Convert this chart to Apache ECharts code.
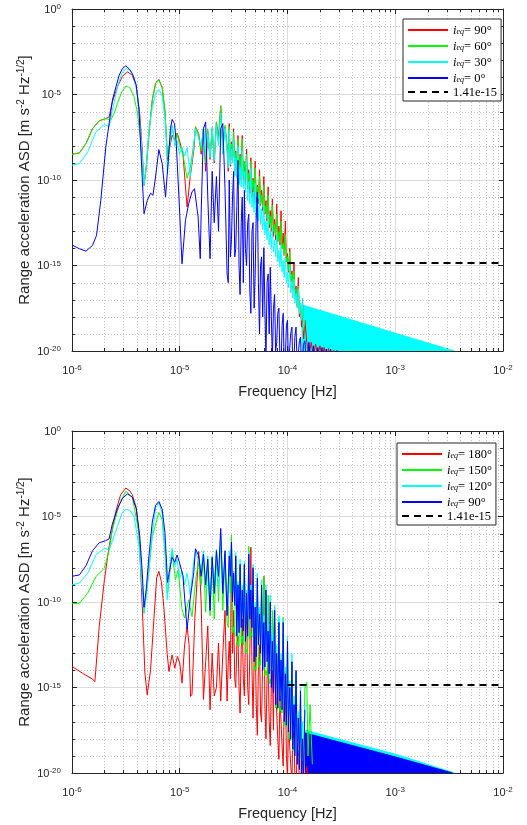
<!DOCTYPE html>
<html><head><meta charset="utf-8">
<script src="https://cdn.jsdelivr.net/npm/echarts@6/dist/echarts.min.js"></script>
<style>html,body{margin:0;padding:0;background:#fff}#c{width:527px;height:825px}</style>
</head><body><div id="c"></div>
<script>
// ---------- frequency grids for the dense middle band ----------
const freqMid = [1.58e-5,1.66e-5,1.74e-5,1.82e-5,1.91e-5,2.0e-5,2.09e-5,2.19e-5,2.29e-5,2.4e-5,2.51e-5,2.63e-5,2.75e-5,2.88e-5,3.02e-5,3.16e-5,3.31e-5,3.47e-5,3.63e-5,3.8e-5,3.98e-5,4.17e-5,4.37e-5,4.57e-5,4.79e-5,5.01e-5,5.25e-5,5.5e-5,5.75e-5,6.03e-5,6.31e-5,6.61e-5,6.92e-5,7.24e-5,7.59e-5,7.94e-5,8.32e-5,8.71e-5,9.12e-5,9.55e-5,1.0e-4,1.05e-4,1.1e-4,1.15e-4,1.2e-4,1.26e-4,1.32e-4,1.38e-4,1.45e-4];
const freqMid2 = [2.82e-5,2.95e-5,3.09e-5,3.24e-5,3.39e-5,3.55e-5,3.72e-5,3.89e-5,4.07e-5,4.27e-5,4.47e-5,4.68e-5,4.9e-5,5.13e-5,5.37e-5,5.62e-5,5.89e-5,6.17e-5,6.46e-5,6.76e-5,7.08e-5,7.41e-5,7.76e-5,8.13e-5,8.51e-5,8.91e-5,9.33e-5,9.77e-5,1.02e-4,1.07e-4,1.12e-4,1.17e-4,1.23e-4,1.29e-4,1.35e-4,1.41e-4];

// ---------- i_eq = 90 deg, low-frequency part (both panels) ----------
const i90Low = [[1e-6,3.2e-9],[1.17e-6,3.8e-9],[1.35e-6,1.35e-8],[1.55e-6,1.0e-7],[1.79e-6,2.9e-7],[2.06e-6,3.9e-7],[2.21e-6,4.9e-7],[2.37e-6,3.7e-6],[2.64e-6,2.8e-5],[2.94e-6,1.17e-4],[3.27e-6,2.1e-4],[3.63e-6,1.35e-4],[3.95e-6,2.8e-5],[4.25e-6,7.8e-7],[4.49e-6,5.5e-9],[4.66e-6,4.9e-11],[4.89e-6,5.8e-10],[5.18e-6,5.1e-8],[5.56e-6,4.7e-6],[5.96e-6,4.5e-5],[6.40e-6,7.6e-5],[6.87e-6,2.6e-5],[7.28e-6,1.2e-6],[7.54e-6,2.1e-8],[7.69e-6,1.4e-9],[8.09e-6,8.5e-9],[8.49e-6,4.2e-8],[8.99e-6,2.1e-8],[9.44e-6,5.6e-8],[9.93e-6,2.1e-8],[1.07e-5,3.5e-9],[1.17e-5,2.6e-12],[1.25e-5,1.5e-10],[1.35e-5,5.5e-9],[1.40e-5,1.3e-7],[1.50e-5,5.1e-8]];

// ---------- TOP PANEL ----------
const topRedMid = [3.2e-9,1e-7,3.2e-10,6.3e-8,1.6e-9,1e-7,1e-9,2.5e-7,3.2e-8,2.2e-6,1e-8,1.26e-7,1e-8,2e-7,1.6e-8,1e-7,5e-9,4e-8,3.2e-9,4e-8,1.26e-9,6.3e-9,4e-10,2e-9,1.26e-10,1.26e-9,5e-11,4e-10,2.5e-11,1.6e-10,6.3e-12,4e-11,1.6e-12,7.9e-12,5e-13,4e-12,2e-13,1.6e-12,7.9e-14,4e-13,5e-15,1e-14,5e-16,1.6e-15,6.3e-17,2e-16,5e-18,1e-17,6.3e-19];
const topRedMid2 = [3.2e-10,6.3e-10,1e-9,3.2e-10,1.6e-10,6.3e-11,1e-10,1e-10,5e-11,3.2e-11,1.6e-11,1e-11,6.3e-12,5e-12,4e-12,3.2e-12,1.6e-12,1e-12,4e-13,1.6e-13,1e-13,5e-14,3.2e-14,2.5e-14,1.6e-14,1e-14,4e-15,1.6e-15,4e-16,1e-16,4e-17,1.6e-17,4e-18,1e-18,2.5e-19,5e-20];
const topRedTail = [[1.51e-4,3.2e-20],[1.58e-4,5e-21],[1.66e-4,3.2e-20],[1.74e-4,5e-21],[1.82e-4,2.5e-20],[1.91e-4,5e-21],[2.0e-4,2e-20],[2.09e-4,5e-21],[2.19e-4,1.6e-20],[2.29e-4,4e-21],[2.4e-4,1.4e-20],[2.51e-4,4e-21],[2.69e-4,1.1e-20],[2.88e-4,3.2e-21]];

const topGreenLow = [[1e-6,3.2e-9],[1.17e-6,3.8e-9],[1.35e-6,1.35e-8],[1.55e-6,1.0e-7],[1.79e-6,2.9e-7],[2.06e-6,3.9e-7],[2.29e-6,3.2e-7],[2.46e-6,7.8e-7],[2.64e-6,3.0e-6],[2.9e-6,1.45e-5],[3.16e-6,3.1e-5],[3.43e-6,2.6e-5],[3.76e-6,7.3e-6],[4.04e-6,9.6e-7],[4.34e-6,2.1e-8],[4.66e-6,4.9e-11],[4.89e-6,5.8e-10],[5.18e-6,5.1e-8],[5.56e-6,4.7e-6],[5.96e-6,4.2e-5],[6.40e-6,7.1e-5],[6.87e-6,2.5e-5],[7.28e-6,1.2e-6],[7.54e-6,2.5e-8],[7.69e-6,2.5e-9],[8.09e-6,1.6e-8],[8.49e-6,1.4e-7],[8.99e-6,2.0e-8],[9.44e-6,5.0e-8],[9.93e-6,1.26e-8],[1.07e-5,3.2e-9],[1.17e-5,1.26e-10],[1.25e-5,5.0e-10],[1.35e-5,1.26e-8],[1.40e-5,1.26e-7],[1.50e-5,4.0e-8]];
const topGreenMid = [5e-9,1.26e-7,1e-9,1e-7,3.2e-9,7.9e-8,1.6e-9,2.5e-7,1.6e-8,2e-6,6.3e-9,1.6e-7,1e-8,1.26e-7,1.26e-8,6.3e-8,4e-9,2.5e-8,2.5e-9,2.5e-8,1.26e-9,3.2e-9,2.5e-10,1.26e-9,1e-10,5e-10,4e-11,1.6e-10,1.26e-11,5e-11,3.2e-12,1.26e-11,7.9e-13,3.2e-12,2.5e-13,1e-12,1e-13,4e-13,2e-14,6.3e-14,3.2e-15,6.3e-15,3.2e-16,5e-16,4e-17,6.3e-17,3.2e-18,5e-18,6.3e-19];
const topGreenMid2 = [1e-9,1.6e-9,3.2e-9,6.3e-10,5e-10,2.5e-10,2.5e-10,1.6e-10,1.26e-10,5e-11,4e-11,2.5e-11,1.6e-11,1e-11,7.9e-12,4e-12,2.5e-12,1.26e-12,6.3e-13,2.5e-13,1.6e-13,1e-13,6.3e-14,3.2e-14,2e-14,1e-14,4e-15,1.6e-15,5e-16,1.26e-16,6.3e-17,2.5e-17,6.3e-18,1.6e-18,7.9e-19,1.6e-19];

const topCyanLow = [[1e-6,7.2e-10],[1.17e-6,9.1e-10],[1.40e-6,4.4e-9],[1.67e-6,6.5e-8],[2.0e-6,1.8e-7],[2.21e-6,1.3e-7],[2.37e-6,1.2e-6],[2.64e-6,2.8e-5],[2.9e-6,1.7e-4],[3.16e-6,3.3e-4],[3.43e-6,2.7e-4],[3.76e-6,1.0e-4],[4.04e-6,1.15e-5],[4.34e-6,5.1e-8],[4.66e-6,4.9e-11],[4.89e-6,7.2e-10],[5.18e-6,1.0e-7],[5.56e-6,1.6e-6],[5.96e-6,1.1e-5],[6.40e-6,2.0e-5],[6.87e-6,8.0e-6],[7.28e-6,4.0e-7],[7.54e-6,1.0e-8],[7.69e-6,2.3e-10],[8.09e-6,1.26e-8],[8.49e-6,1.6e-7],[8.99e-6,1.0e-8],[9.44e-6,2.0e-8],[9.93e-6,3.2e-9],[1.05e-5,8.0e-9],[1.11e-5,2.5e-9],[1.17e-5,8.0e-9],[1.25e-5,1.6e-10],[1.35e-5,1.26e-8],[1.40e-5,1.0e-7],[1.50e-5,2.5e-8]];
const topCyanMid = [1e-8,1e-7,2.5e-9,5e-8,2e-9,1.26e-7,1.26e-9,1.6e-7,1e-8,7.9e-7,3.2e-9,1e-7,4e-9,7.9e-8,6.3e-9,3.2e-8,2e-9,1e-8,6.3e-10,5e-9,3.2e-10,1.6e-9,7.9e-11,5e-10,2e-11,6.3e-11,5e-12,1.6e-11,2e-12,3.2e-12,4e-13,1e-12,1e-13,2e-13,3.2e-14,6.3e-14,7.9e-15,1.6e-14,2e-15,3.2e-15,4e-16,1e-15,1e-16,1.6e-16,2.5e-17,4e-17,6.3e-18,1.26e-17,1.6e-18];
const topCyanMid2 = [5e-10,7.9e-10,1e-9,1.6e-10,1.26e-10,5e-11,4e-11,3.2e-11,2e-11,6.3e-12,4e-12,2.5e-12,1.26e-12,6.3e-13,4e-13,2.5e-13,1.26e-13,6.3e-14,3.2e-14,1.6e-14,1e-14,6.3e-15,3.2e-15,1.6e-15,7.9e-16,4e-16,2e-16,1e-16,5e-17,2.5e-17,1.26e-17,6.3e-18,3.2e-18,1.6e-18,6.3e-19,2.5e-19];
const topCyanTail = [[1.35e-4,5e-18],[3.16e-4,1e-18],[1.05e-3,1e-19],[3.55e-3,1e-20]];

const topBlueLow = [[1e-6,1.6e-14],[1.17e-6,9.5e-15],[1.35e-6,6.9e-15],[1.55e-6,1.5e-14],[1.69e-6,5.8e-14],[1.85e-6,6.5e-12],[2.06e-6,8.5e-9],[2.37e-6,4.7e-6],[2.74e-6,1.35e-4],[2.94e-6,3.3e-4],[3.16e-6,4.8e-4],[3.43e-6,2.9e-4],[3.63e-6,1.7e-4],[3.95e-6,3.5e-5],[4.19e-6,1.2e-6],[4.34e-6,8.5e-9],[4.66e-6,1.07e-12],[5.0e-6,6.5e-12],[5.37e-6,1.7e-11],[5.64e-6,1.26e-11],[5.96e-6,1.5e-10],[6.40e-6,6.0e-9],[6.87e-6,9.1e-10],[7.38e-6,1.0e-11],[7.94e-6,5.5e-9],[8.2e-6,1.0e-7],[8.49e-6,3.5e-7],[8.93e-6,2.0e-7],[9.25e-6,2.1e-8],[9.93e-6,2.6e-12],[1.05e-5,1.26e-15],[1.13e-5,4.4e-13],[1.21e-5,4.1e-12],[1.30e-5,2e-11],[1.37e-5,3.1e-11],[1.48e-5,6.8e-13],[1.55e-5,2.5e-15]];
const topBlueMid = [1e-12,1e-7,2.5e-7,1e-11,2.5e-15,3.2e-10,3.2e-13,1.6e-10,1e-13,1e-7,2e-7,3.2e-11,3.2e-16,1e-10,3.2e-14,3.2e-10,1e-14,1.4e-9,2e-17,1e-11,2.5e-11,1e-15,1e-12,1.6e-18,3.2e-13,3.2e-16,2e-11,1e-19,3.2e-15,1.1e-14,3.2e-21,3.2e-16,7.9e-16,3.2e-21,2e-17,3.2e-20,3.2e-18,1e-21,1.6e-18,3.2e-21,6.3e-19,1e-21,2.5e-19,3.2e-21,2.5e-19,1e-21,6.3e-20,3.2e-21,4e-20];
const topBlueMid2 = [1e-16,3.2e-15,1e-11,3.2e-15,3.2e-12,1e-15,3.2e-13,1e-16,1e-14,3.2e-13,3.2e-17,1e-13,3.2e-18,1e-12,1e-16,1e-15,1e-18,3.2e-18,1e-16,1e-19,1e-18,3.2e-18,1e-20,1.6e-18,3.2e-21,3.2e-19,1e-21,3.2e-19,1e-21,1e-19,1e-21,6.3e-20,1e-21,4e-20,1e-21,2.5e-20];
const topBlueTail = [[1.51e-4,1e-21],[1.58e-4,3.2e-20],[1.66e-4,1e-21],[1.74e-4,2e-20],[1.82e-4,1e-21],[1.91e-4,1.6e-20],[2.0e-4,1e-21],[2.09e-4,1.6e-20],[2.19e-4,1e-21],[2.29e-4,1.3e-20],[2.4e-4,1e-21],[2.51e-4,1.3e-20],[2.69e-4,1e-21],[2.88e-4,1.1e-20],[3.16e-4,1e-21]];

// ---------- BOTTOM PANEL ----------
const botRedLow = [[1e-6,1.7e-14],[1.25e-6,6.9e-15],[1.55e-6,3.1e-15],[1.63e-6,2.2e-15],[1.79e-6,3.7e-12],[2.0e-6,2.0e-9],[2.21e-6,1.8e-7],[2.55e-6,2.0e-5],[2.83e-6,1.9e-4],[3.16e-6,4.6e-4],[3.43e-6,3.2e-4],[3.63e-6,1.9e-4],[3.95e-6,3.2e-5],[4.19e-6,8.5e-7],[4.49e-6,5.5e-11],[4.75e-6,6.9e-15],[4.99e-6,3.7e-16],[5.36e-6,1.1e-14],[5.75e-6,9.1e-12],[6.10e-6,2.5e-9],[6.40e-6,6.2e-9],[6.75e-6,1.6e-9],[7.11e-6,5.5e-11],[7.64e-6,1.0e-13],[7.94e-6,8.7e-15],[8.49e-6,8.1e-14],[8.99e-6,1.35e-14],[9.51e-6,6.6e-14],[1.0e-5,2.7e-14],[1.05e-5,1.8e-15],[1.11e-5,3.2e-13],[1.17e-5,3.7e-12],[1.22e-5,3.2e-13],[1.26e-5,3.0e-16],[1.30e-5,4e-16],[1.38e-5,1e-11],[1.50e-5,8.9e-8]];
const botRedMid = [1e-10,2e-16,3.2e-14,4e-12,5e-17,1e-13,3.2e-16,1e-15,4e-13,1.6e-16,1e-13,3.2e-11,1.6e-16,5e-13,7.9e-7,3.2e-11,1e-15,1e-12,3.2e-17,1e-11,3.2e-16,3.2e-11,1e-16,1.6e-7,1.6e-17,1e-12,1.6e-18,3.2e-13,1e-17,3.2e-9,1e-18,3.2e-14,4e-19,1e-14,5e-11,1e-15,6.3e-20,3.2e-16,2.5e-20,3.2e-15,5e-21,1e-17,3.2e-21,1e-18,1e-21,1.6e-19,1e-21,4e-20,1e-21];
const botRedMid2 = [3.2e-14,3.2e-15,1e-13,3.2e-15,3.2e-13,1e-15,1.6e-13,3.2e-15,1e-12,1e-15,1e-13,1e-14,3.2e-14,1e-16,1.6e-14,3.2e-17,6.3e-14,1e-16,3.2e-15,1e-17,1.6e-15,3.2e-18,1e-15,1e-18,3.2e-16,3.2e-19,1e-16,1e-19,1e-17,3.2e-20,3.2e-18,1e-20,3.2e-19,3.2e-21,6.3e-20,1e-21];
const botRedTail = [[1.51e-4,2.5e-20],[1.58e-4,1e-21]];

const botGreenLow = [[1e-6,7.9e-11],[1.17e-6,8.5e-11],[1.40e-6,3.3e-10],[1.67e-6,3.1e-9],[2.0e-6,9.5e-9],[2.21e-6,1.0e-7],[2.37e-6,1.66e-6],[2.74e-6,4.9e-5],[3.16e-6,3.0e-4],[3.63e-6,1.35e-4],[4.19e-6,1.07e-6],[4.66e-6,2.2e-11],[5.0e-6,8.1e-10],[5.56e-6,6.8e-7],[6.40e-6,1.74e-5],[6.87e-6,6.5e-6],[7.38e-6,3.0e-8],[7.69e-6,2.5e-10],[8.49e-6,8.9e-8],[9.12e-6,2.0e-9],[9.66e-6,7.6e-9],[1.05e-5,3.5e-11],[1.11e-5,1.15e-11],[1.21e-5,1.35e-10],[1.30e-5,1.4e-11],[1.42e-5,3.1e-9],[1.50e-5,3.2e-8]];
const botGreenMid = [1e-9,4e-8,2.5e-11,2.5e-8,1.6e-11,5e-8,1e-11,6.3e-8,1e-10,1e-6,3.2e-11,6.3e-8,6.3e-12,3.2e-8,7.9e-7,3.2e-12,3.2e-8,5e-13,1e-8,1e-12,1.6e-8,1.6e-13,1.8e-7,1.6e-12,5e-9,1.6e-14,1.6e-9,3.2e-14,6.3e-10,3.2e-9,1e-14,2.5e-10,3.2e-15,3.2e-11,5e-11,1e-16,1e-11,6.3e-17,1.26e-11,1e-17,2.5e-13,1.6e-18,2e-14,3.2e-19,3.2e-15,1e-19,1e-16,3.2e-20,1e-15];
const botGreenMid2 = [3.2e-12,3.2e-10,1.6e-12,1e-12,3.2e-13,2.5e-13,4e-13,3.2e-13,1e-13,1e-13,6.3e-13,1e-12,1e-14,1e-14,1.6e-14,2e-14,1e-12,5e-15,5e-15,1.6e-15,1.6e-15,3.2e-13,6.3e-17,5e-17,4e-17,3.2e-17,6.3e-18,5e-18,1e-18,7.9e-19,2e-19,1.6e-19,6.3e-20,5e-20,2e-20,1.6e-20];
const botGreenTail = [[1.51e-4,2e-15],[1.55e-4,1e-19],[1.62e-4,1e-16],[1.70e-4,3.2e-20]];

const botCyanLow = [[1e-6,1.0e-9],[1.17e-6,1.3e-9],[1.40e-6,4.9e-9],[1.67e-6,5.8e-8],[2.0e-6,1.4e-7],[2.21e-6,1.1e-7],[2.64e-6,2.6e-6],[2.9e-6,1.5e-5],[3.16e-6,2.7e-5],[3.43e-6,2.3e-5],[3.76e-6,1.0e-5],[4.19e-6,1.8e-7],[4.66e-6,2.2e-11],[5.0e-6,8.1e-10],[5.56e-6,1.0e-6],[6.0e-6,3.5e-5],[6.40e-6,6.3e-5],[6.87e-6,1.6e-5],[7.38e-6,5.0e-8],[7.64e-6,1.35e-10],[8.09e-6,1.26e-8],[8.49e-6,1.4e-7],[8.99e-6,1.26e-8],[9.44e-6,3.2e-8],[1.0e-5,2.5e-9],[1.05e-5,6.3e-9],[1.11e-5,1.0e-9],[1.17e-5,5.0e-9],[1.25e-5,2.5e-10],[1.35e-5,2.5e-8],[1.40e-5,1.0e-7],[1.50e-5,2.5e-8]];
const botCyanMid = [1e-8,1e-7,6.3e-10,5e-8,1.6e-10,3.2e-8,1e-9,1.26e-7,6.3e-10,6.3e-7,1e-9,4e-8,1e-10,1e-7,2e-7,6.3e-9,7.9e-8,1.6e-9,3.2e-8,1e-9,2.5e-8,5e-10,7.9e-8,1e-9,1.6e-8,1e-10,5e-9,5e-11,2e-9,1.6e-11,1e-9,5e-12,2.5e-10,1.26e-12,6.3e-11,3.2e-13,1.6e-11,1e-13,1e-11,1.6e-14,1e-12,2.5e-15,1e-13,3.2e-16,7.9e-15,4e-17,1e-15,1e-17,1e-16];
const botCyanMid2 = [6.3e-11,1e-8,2.5e-10,1.6e-10,1e-11,6.3e-12,2.5e-11,1.6e-11,4e-12,2.5e-12,2.5e-11,1.6e-11,4e-13,2.5e-13,1e-12,6.3e-13,1e-13,7.9e-14,1e-13,6.3e-14,1e-14,6.3e-15,1e-15,7.9e-16,1e-15,6.3e-16,1e-16,6.3e-17,3.2e-17,1.6e-17,6.3e-18,3.2e-18,1.6e-18,1e-18,6.3e-19,3.2e-19];
const botCyanTail = [[1.45e-4,3.2e-18],[1.05e-3,1.15e-19],[3.55e-3,1e-20]];

const botBlueMid = [3.2e-9,6.3e-8,1e-9,3.2e-8,3.2e-11,4e-8,3.2e-10,1e-7,3.2e-9,2e-6,3.2e-10,1e-7,1.6e-11,5e-8,3.2e-7,5e-9,5e-8,1e-9,1.6e-8,5e-10,1.6e-8,3.2e-10,6.3e-8,5e-10,1e-8,5e-11,2.5e-9,2e-11,1e-9,6.3e-12,5e-10,2e-12,1e-10,5e-13,3.2e-11,1e-13,6.3e-12,4e-14,6.3e-12,6.3e-15,5e-13,1e-15,3.2e-14,1e-16,1e-14,1.6e-17,6.3e-16,1e-18,5e-17];
const botBlueMid2 = [1.26e-11,3.2e-9,1e-10,6.3e-11,1e-12,1.6e-12,3.2e-12,2e-12,5e-13,1e-12,1e-11,3.2e-12,3.2e-14,6.3e-14,3.2e-13,1e-13,1e-14,1.6e-14,3.2e-14,6.3e-15,1e-15,5e-16,1e-16,6.3e-17,1.6e-16,5e-17,1e-17,6.3e-18,2.5e-18,1e-18,2.5e-19,1e-19,3.2e-20,1.6e-20,3.2e-21,3.2e-21];
const botBlueTail = [[1.45e-4,2.2e-18],[1.05e-3,8e-20],[3.4e-3,1e-20]];

// ---------- threshold ----------
const thresholdValue = 1.41e-15;
const thresholdFreq = [1e-4, 1e-2];

// ---------- minor tick positions ----------
const minorX = [2e-6,3e-6,4e-6,5e-6,6e-6,7e-6,8e-6,9e-6,2e-5,3e-5,4e-5,5e-5,6e-5,7e-5,8e-5,9e-5,2e-4,3e-4,4e-4,5e-4,6e-4,7e-4,8e-4,9e-4,2e-3,3e-3,4e-3,5e-3,6e-3,7e-3,8e-3,9e-3];
const minorY = [1e-1,1e-2,1e-3,1e-4,1e-6,1e-7,1e-8,1e-9,1e-11,1e-12,1e-13,1e-14,1e-16,1e-17,1e-18,1e-19];

const legendTop = {T90:'90°', T60:'60°', T30:'30°', T0:'0°', Tth:'1.41e-15'};
const legendBot = {B180:'180°', B150:'150°', B120:'120°', B90:'90°', Bth:'1.41e-15'};

function build(low, mid, tail, mid2) {
  let pts = low.concat(freqMid.map((f, i) => [f, mid[i]]));
  if (mid2) pts = pts.concat(freqMid2.map((f, i) => [f, mid2[i]]));
  if (tail) pts = pts.concat(tail);
  pts.sort((a, b) => a[0] - b[0]);
  return pts;
}

const AX = '#262626';
const supRich = {
  b: {fontSize: 11, color: AX, lineHeight: 12, verticalAlign: 'bottom', fontFamily: 'Liberation Sans'},
  s: {fontSize: 8, color: AX, lineHeight: 9, padding: [0,0,5,0], verticalAlign: 'top', fontFamily: 'Liberation Sans'}
};
function powLabel(v) {
  const e = Math.round(Math.log10(v));
  return '{b|10}{s|' + e + '}';
}

function axesFor(g, isX) {
  const base = isX ? {min: 1e-6, max: 1e-2, interval: 1, splitNumber: 4} : {min: 1e-20, max: 1, interval: 5, splitNumber: 4};
  const main = Object.assign({
    type: 'log', logBase: 10, gridIndex: g,
    axisLine: {show: true, onZero: false, lineStyle: {color: AX, width: 1}},
    axisTick: {show: true, inside: true, length: 5, lineStyle: {color: AX}},
    axisLabel: {formatter: powLabel, rich: supRich, margin: isX ? 13 : 11},
    splitLine: {show: true, lineStyle: {color: '#dcdcdc', width: 1}},
    minorTick: {show: false}, minorSplitLine: {show: false},
    nameMoveOverlap: false
  }, base);
  if (isX) {
    main.position = 'bottom';
    main.name = 'Frequency [Hz]';
    main.nameLocation = 'middle';
    main.nameGap = 33;
    main.nameTextStyle = {fontSize: 14.5, color: AX, fontFamily: 'Liberation Sans'};
  } else {
    main.position = 'left';
    main.name = '{n|Range acceleration ASD [m s}{p|-2}{n| Hz}{p|-1/2}{n|]}';
    main.nameLocation = 'middle';
    main.nameGap = 40;
    main.nameRotate = 90;
    main.nameTextStyle = {rich: {
      n: {fontSize: 15, color: AX, fontFamily: 'Liberation Sans', lineHeight: 16, verticalAlign: 'bottom'},
      p: {fontSize: 10, color: AX, fontFamily: 'Liberation Sans', lineHeight: 11, padding: [0,0,6,0], verticalAlign: 'top'}
    }};
  }
  const twin = Object.assign({
    type: 'log', logBase: 10, gridIndex: g,
    position: isX ? 'top' : 'right',
    axisLine: {show: true, onZero: false, lineStyle: {color: AX, width: 1}},
    axisTick: {show: true, inside: true, length: 5, lineStyle: {color: AX}},
    axisLabel: {show: false}, splitLine: {show: false}
  }, base);
  return [main, twin];
}

function decor(params, api) {
  const cs = params.coordSys;
  const k = api.value(2);
  const L = 3;
  if (k === 0) {
    const x = Math.round(api.coord([api.value(0), 1e-10])[0]) + 0.5;
    return {type: 'group', children: [
      {type: 'line', shape: {x1: x, y1: cs.y, x2: x, y2: cs.y + cs.height}, style: {stroke: '#c4c4c4', lineWidth: 1, lineDash: [1, 2]}},
      {type: 'line', shape: {x1: x, y1: cs.y + cs.height, x2: x, y2: cs.y + cs.height - L}, style: {stroke: AX, lineWidth: 1}},
      {type: 'line', shape: {x1: x, y1: cs.y, x2: x, y2: cs.y + L}, style: {stroke: AX, lineWidth: 1}}
    ]};
  }
  const y = Math.round(api.coord([1e-4, api.value(1)])[1]) + 0.5;
  return {type: 'group', children: [
    {type: 'line', shape: {x1: cs.x, y1: y, x2: cs.x + cs.width, y2: y}, style: {stroke: '#c4c4c4', lineWidth: 1, lineDash: [1, 2]}},
    {type: 'line', shape: {x1: cs.x, y1: y, x2: cs.x + L, y2: y}, style: {stroke: AX, lineWidth: 1}},
    {type: 'line', shape: {x1: cs.x + cs.width, y1: y, x2: cs.x + cs.width - L, y2: y}, style: {stroke: AX, lineWidth: 1}}
  ]};
}
const decorData = minorX.map(v => [v, 1e-10, 0]).concat(minorY.map(v => [1e-4, v, 1]));

function line(name, data, color, xi, extra) {
  return Object.assign({
    name: name, type: 'line', data: data, xAxisIndex: xi, yAxisIndex: xi,
    symbol: 'none', showSymbol: false, clip: true, animation: false,
    lineStyle: {color: color, width: 1}, itemStyle: {color: color}
  }, extra || {});
}
function area(data, color, xi) {
  return {
    type: 'line', data: data, xAxisIndex: xi, yAxisIndex: xi, symbol: 'none', clip: true, animation: false,
    lineStyle: {color: color, width: 1}, itemStyle: {color: color},
    areaStyle: {color: color, opacity: 1, origin: 'start'}, silent: true
  };
}

const legendRich = {
  i: {fontFamily: 'Liberation Serif', fontStyle: 'italic', fontSize: 12.5, color: '#000', lineHeight: 12, verticalAlign: 'top'},
  q: {fontFamily: 'Liberation Serif', fontStyle: 'italic', fontSize: 8, color: '#000', lineHeight: 8, verticalAlign: 'bottom', padding: [6,0,0,0]},
  n: {fontFamily: 'Liberation Serif', fontSize: 12.5, color: '#000', lineHeight: 12, verticalAlign: 'top'}
};
function legendFmt(map) {
  return function (name) {
    const t = map[name];
    if (t === '1.41e-15') return '{n|' + t + '}';
    return '{i|i}{q|eq}{n|= ' + t + '}';
  };
}
function legend(left, top, names, map) {
  return {
    left: left, top: top, orient: 'vertical', data: names, selectedMode: false,
    itemWidth: 40, itemHeight: 12, itemGap: 1, padding: [3, 4, 2, 4],
    itemStyle: {opacity: 0},
    borderColor: AX, borderWidth: 1, backgroundColor: '#fff',
    formatter: legendFmt(map), textStyle: {rich: legendRich, fontFamily: 'Liberation Serif'}
  };
}

const xa = axesFor(0, true).concat(axesFor(1, true));
const ya = axesFor(0, false).concat(axesFor(1, false));

const option = {
  animation: false,
  backgroundColor: '#fff',
  textStyle: {fontFamily: 'Liberation Sans'},
  grid: [
    {left: 72, top: 9, width: 431, height: 342, containLabel: false},
    {left: 72, top: 431, width: 431, height: 342, containLabel: false}
  ],
  xAxis: xa,
  yAxis: ya,
  legend: [
    legend(403, 19, ['T90', 'T60', 'T30', 'T0', 'Tth'], legendTop),
    legend(397, 443, ['B180', 'B150', 'B120', 'B90', 'Bth'], legendBot)
  ],
  series: [
    {type: 'custom', xAxisIndex: 0, yAxisIndex: 0, renderItem: decor, data: decorData, dimensions: ['x','y','k'], encode: {x: 0, y: 1}, silent: true, z: 1, clip: false},
    {type: 'custom', xAxisIndex: 2, yAxisIndex: 2, renderItem: decor, data: decorData, dimensions: ['x','y','k'], encode: {x: 0, y: 1}, silent: true, z: 1, clip: false},
    // top
    area(topCyanTail, '#00ffff', 0),
    line('T90', build(i90Low, topRedMid, topRedTail, topRedMid2), '#ff0000', 0),
    line('T60', build(topGreenLow, topGreenMid, null, topGreenMid2), '#00ff00', 0),
    line('T30', build(topCyanLow, topCyanMid, null, topCyanMid2), '#00ffff', 0),
    line('T0', build(topBlueLow, topBlueMid, topBlueTail, topBlueMid2), '#0000ff', 0),
    line('Tth', thresholdFreq.map(f => [f, thresholdValue]), '#000', 0, {lineStyle: {color: '#000', width: 2, type: [7, 5]}}),
    // bottom
    area(botCyanTail, '#00ffff', 2),
    area(botBlueTail, '#0000ff', 2),
    line('B180', build(botRedLow, botRedMid, botRedTail, botRedMid2), '#ff0000', 2),
    line('B150', build(botGreenLow, botGreenMid, botGreenTail, botGreenMid2), '#00ff00', 2),
    line('B120', build(botCyanLow, botCyanMid, null, botCyanMid2), '#00ffff', 2),
    line('B90', build(i90Low, botBlueMid, null, botBlueMid2), '#0000ff', 2),
    line('Bth', thresholdFreq.map(f => [f, thresholdValue]), '#000', 2, {lineStyle: {color: '#000', width: 2, type: [7, 5]}})
  ]
};
const chart = echarts.init(document.getElementById('c'), null, {renderer: 'canvas'});
chart.setOption(option);
</script></body></html>
